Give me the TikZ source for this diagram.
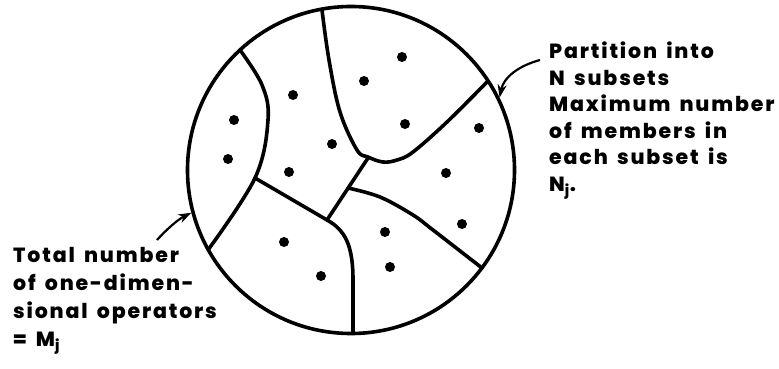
\documentclass[tikz,border=0pt]{standalone}
\usepackage{fontspec}
\setmainfont{Poppins}[BoldFont={Poppins ExtraBold}, LetterSpace=9, WordSpace=1.6]
\usetikzlibrary{arrows.meta, positioning}

\begin{document}
\begin{tikzpicture}[x=1pt, y=-1pt,
    edge/.style={line width=3.6pt, line cap=round, line join=round},
    note/.style={align=left, inner sep=0pt, font=\fontsize{20.5}{26.5}\selectfont\bfseries},
    pointer/.style={-{Stealth[length=13pt, width=9pt]}, line width=2.2pt},
]
    \useasboundingbox (0,0) rectangle (779,369);

    % The whole set of operators
    \node[circle, draw, line width=3.6pt, minimum size=327pt, inner sep=0pt] (set) at (351,170) {};

    % Junctions of the partition lines
    \coordinate (j1) at (255,178);
    \coordinate (j2) at (368,158);
    \coordinate (j3) at (348,188);
    \coordinate (j4) at (327,220);

    % Partition lines
    \draw[edge] plot[smooth, tension=0.6] coordinates {(240,50) (262,85) (268,120) (255,178) (208,250)};
    \draw[edge] plot[smooth, tension=0.6] coordinates {(322,10) (329,60) (340,112) (357,150) (368,157) (383,162) (397,160) (413,152) (447,122) (487,82)};
    \draw[edge] (j2) -- (j4);
    \draw[edge] plot[smooth, tension=0.6] coordinates {(j3) (380,197) (413,215) (433,230) (482,268)};
    \draw[edge] (j1) -- (j4) .. controls (345,230) and (353,245) .. (353,280) -- (353,333);

    % Members
    \foreach \p in {(402,57), (364,81), (293,95), (405,124), (479,128), (234,120), (228,159), (332,144),
                    (289,172), (446,173), (462,224), (385,232), (284,242), (390,267), (321,276)}
        \fill \p circle (5pt);

    % Labels
    \node[note, anchor=north west] (part) at (549,42) {Partition into\\N subsets\\Maximum number\\of members in\\each subset is\\N\textsubscript{j}.};
    \node[note, anchor=north west, font=\fontsize{20.5}{28}\selectfont\bfseries] (tot) at (13,247) {Total number\\of one-dimen-\\sional operators\\= M\textsubscript{j}};

    % Pointers to the circle
    \draw[pointer] ([xshift=-9pt, yshift=-18pt]part.north west) .. controls +(-22,6) and +(4,-20) .. (set.26);
    \draw[pointer] ([xshift=144pt, yshift=7pt]tot.north west) .. controls +(9,-10) and +(-14,7) .. (set.195);

\end{tikzpicture}
\end{document}
